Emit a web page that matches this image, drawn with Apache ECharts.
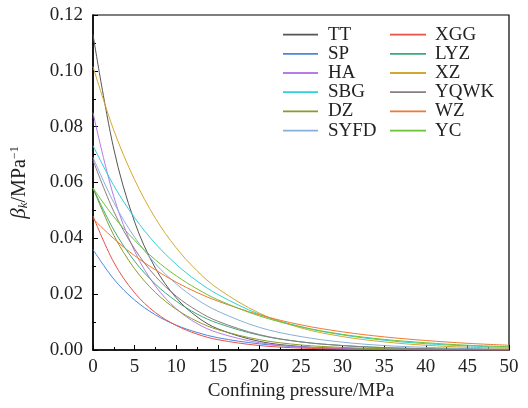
<!DOCTYPE html>
<html>
<head>
<meta charset="utf-8">
<script src="https://cdn.jsdelivr.net/npm/echarts@6/dist/echarts.min.js"></script>
<style>
html,body{margin:0;padding:0;background:#fff;}
#container1{width:528px;height:408px;}
</style>
</head>
<body>
<div id="container1"></div>
<script>
// confining pressure, MPa
var pressure = [0, 2.5, 5, 7.5, 10, 12.5, 15, 20, 25, 30, 35, 40, 45, 50];
// beta_k values, one list per sample
var TT   = [0.113, 0.0720, 0.0459, 0.0293, 0.0187, 0.0119, 0.0076, 0.0031, 0.00125, 0.0005, 0.0002, 0.0001, 0.00003, 0.00001];
var SP   = [0.036, 0.0254, 0.0179, 0.0126, 0.0089, 0.0063, 0.0044, 0.0022, 0.0011, 0.00054, 0.00027, 0.00013, 0.00007, 0.00003];
var HA   = [0.085, 0.0549, 0.0354, 0.0229, 0.0148, 0.0095, 0.0062, 0.0026, 0.0011, 0.00045, 0.00019, 0.00008, 0.00003, 0.00001];
var SBG  = [0.0732, 0.0589, 0.0474, 0.0381, 0.0307, 0.0247, 0.0199, 0.0128, 0.0083, 0.0054, 0.0035, 0.00225, 0.00146, 0.00094];
var DZ   = [0.058, 0.0411, 0.0291, 0.0206, 0.0146, 0.0103, 0.0073, 0.0037, 0.0018, 0.00092, 0.00046, 0.00023, 0.00012, 0.00006];
var SYFD = [0.069, 0.0528, 0.0404, 0.0309, 0.0237, 0.0181, 0.0139, 0.0081, 0.0048, 0.0028, 0.0016, 0.00095, 0.00056, 0.00033];
var XGG  = [0.048, 0.0314, 0.0205, 0.0134, 0.0088, 0.0057, 0.0037, 0.0016, 0.00069, 0.00029, 0.00012, 0.00005, 0.00002, 0.00001];
var LYZ  = [0.058, 0.0430, 0.0318, 0.0236, 0.0175, 0.0129, 0.0096, 0.0053, 0.0029, 0.0016, 0.00087, 0.00048, 0.00026, 0.00014];
var XZ   = [0.1015, 0.0787, 0.0610, 0.0472, 0.0366, 0.0284, 0.0220, 0.0132, 0.0079, 0.0048, 0.0029, 0.0017, 0.0010, 0.00062];
var YQWK = [0.068, 0.0496, 0.0362, 0.0264, 0.0193, 0.0141, 0.0103, 0.0055, 0.0029, 0.0016, 0.00083, 0.00044, 0.00023, 0.00012];
var WZ   = [0.047, 0.0399, 0.0338, 0.0287, 0.0243, 0.0206, 0.0175, 0.0126, 0.0090, 0.0065, 0.0047, 0.0034, 0.0024, 0.0017];
var YC   = [0.058, 0.0477, 0.0393, 0.0323, 0.0266, 0.0219, 0.0180, 0.0122, 0.0083, 0.0056, 0.0038, 0.0026, 0.0017, 0.0012];

var names  = ['TT', 'SP', 'HA', 'SBG', 'DZ', 'SYFD', 'XGG', 'LYZ', 'XZ', 'YQWK', 'WZ', 'YC'];
var values = [TT, SP, HA, SBG, DZ, SYFD, XGG, LYZ, XZ, YQWK, WZ, YC];
var colors = ['#555555', '#4a86e0', '#b57be8', '#30d0d8', '#8c9a28', '#88b0d8',
              '#e8504a', '#3aaa78', '#d4a830', '#8a7c84', '#f07830', '#6cc236'];

var font = 'Liberation Serif';

var series = names.map(function (n, i) {
    return {
        name: n,
        type: 'line',
        symbol: 'none',
        smooth: 0.35,
        lineStyle: {width: 1, color: colors[i]},
        itemStyle: {color: colors[i]},
        data: pressure.map(function (p, j) { return [p, values[i][j]]; })
    };
});

// two legend columns, thin line samples
function legendBlock(list, left, w, pad) {
    return {
        orient: 'vertical',
        left: left,
        top: 25,
        padding: 0,
        icon: 'rect',
        itemWidth: w,
        itemHeight: 1.8,
        itemGap: 0,
        data: list,
        textStyle: {fontFamily: font, fontSize: 19, color: '#222', padding: [0, 0, 0, pad], lineHeight: 19.2}
    };
}

var myChart = echarts.init(document.getElementById('container1'));
var option = {
    animation: false,
    backgroundColor: '#fff',
    grid: {left: 93, right: 19, top: 15, bottom: 58, show: true, borderColor: '#000', borderWidth: 1.2},
    legend: [legendBlock(names.slice(0, 6), 283, 35, 5), legendBlock(names.slice(6), 390, 36, 4)],
    xAxis: {
        type: 'value',
        min: 0, max: 50, interval: 5,
        name: 'Confining pressure/MPa',
        nameLocation: 'middle',
        nameGap: 32,
        nameTextStyle: {fontFamily: font, fontSize: 19, color: '#222'},
        axisLine: {lineStyle: {color: '#000', width: 1.5}},
        axisTick: {inside: true, length: 5, lineStyle: {color: '#000'}},
        minorTick: {show: true, splitNumber: 2, length: 3, lineStyle: {color: '#000'}},
        splitLine: {show: false},
        axisLabel: {fontFamily: font, fontSize: 19, color: '#222', margin: 8}
    },
    yAxis: {
        type: 'value',
        min: 0, max: 0.12, interval: 0.02,
        name: '{b|β}{k|k}{t|/MPa}{s|−1}',
        nameLocation: 'middle',
        nameRotate: 90,
        nameGap: 63,
        nameTextStyle: {
            fontFamily: font, fontSize: 20, color: '#222',
            rich: {
                b: {fontFamily: font, fontSize: 21, fontStyle: 'italic', color: '#222'},
                k: {fontFamily: font, fontSize: 13, fontStyle: 'italic', color: '#222', verticalAlign: 'bottom', padding: [8, 0, 0, 0]},
                t: {fontFamily: font, fontSize: 20, color: '#222'},
                s: {fontFamily: font, fontSize: 12, color: '#222', verticalAlign: 'top', padding: [0, 0, 8, 0]}
            }
        },
        axisLine: {show: true, lineStyle: {color: '#000', width: 1.5}},
        axisTick: {show: true, inside: true, length: 5, lineStyle: {color: '#000'}},
        minorTick: {show: true, splitNumber: 2, length: 3, lineStyle: {color: '#000'}},
        splitLine: {show: false},
        axisLabel: {
            fontFamily: font, fontSize: 19, color: '#222', margin: 10,
            formatter: function (v) { return v.toFixed(2); }
        }
    },
    series: series
};
myChart.setOption(option);
</script>
</body>
</html>
